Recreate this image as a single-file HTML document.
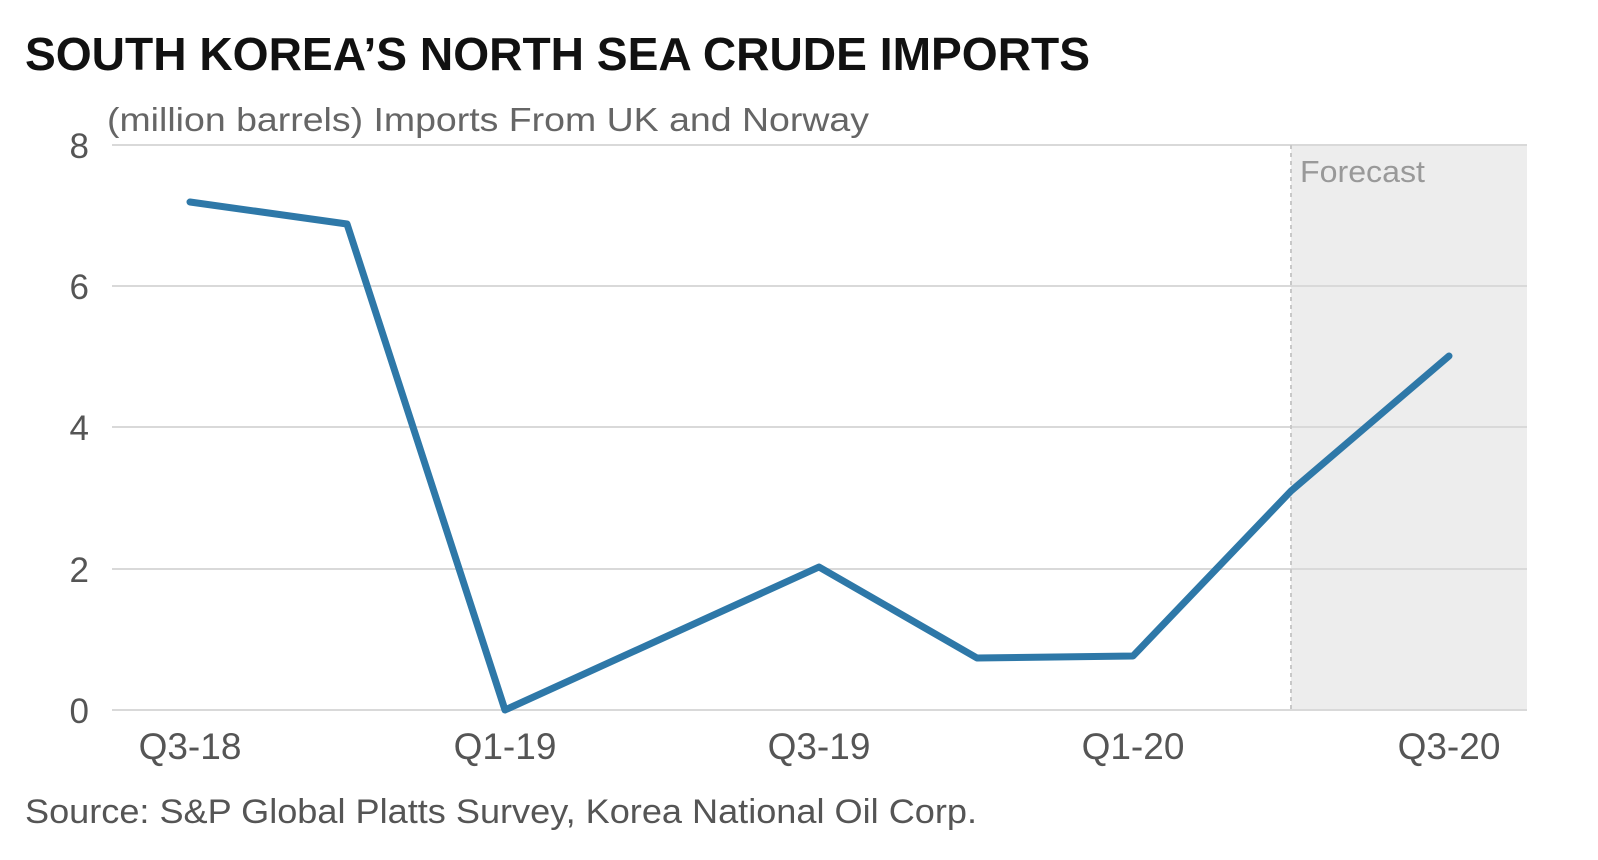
<!DOCTYPE html>
<html><head><meta charset="utf-8"><style>
html,body{margin:0;padding:0;background:#fff;}
svg{display:block;}
text{font-family:"Liberation Sans",sans-serif;}
</style></head><body>
<svg width="1598" height="860" viewBox="0 0 1598 860">
<text x="25" y="70" font-size="46" font-weight="bold" fill="#111" textLength="1065" lengthAdjust="spacingAndGlyphs">SOUTH KOREA’S NORTH SEA CRUDE IMPORTS</text>
<text x="107" y="131" font-size="33" fill="#666" textLength="762" lengthAdjust="spacingAndGlyphs">(million barrels) Imports From UK and Norway</text>
<rect x="1291" y="145" width="236" height="565" fill="#ededed"/>
<g stroke="#d9d9d9" stroke-width="2">
<line x1="112" y1="145" x2="1527" y2="145"/>
<line x1="112" y1="286" x2="1527" y2="286"/>
<line x1="112" y1="427" x2="1527" y2="427"/>
<line x1="112" y1="569" x2="1527" y2="569"/>
<line x1="112" y1="710" x2="1527" y2="710"/>
</g>
<line x1="1291" y1="145" x2="1291" y2="710" stroke="#c8c8c8" stroke-width="2" stroke-dasharray="4,4"/>
<text x="1300" y="182" font-size="31" fill="#999" textLength="125" lengthAdjust="spacingAndGlyphs">Forecast</text>
<g font-size="35" fill="#555" text-anchor="end">
<text x="89" y="158">8</text>
<text x="89" y="299">6</text>
<text x="89" y="440">4</text>
<text x="89" y="582">2</text>
<text x="89" y="723">0</text>
</g>
<g font-size="37" fill="#555" text-anchor="middle">
<text x="190" y="759">Q3-18</text>
<text x="505" y="759">Q1-19</text>
<text x="819" y="759">Q3-19</text>
<text x="1133" y="759">Q1-20</text>
<text x="1449" y="759">Q3-20</text>
</g>
<polyline fill="none" stroke="#2e78a8" stroke-width="7" stroke-linejoin="round" stroke-linecap="round"
points="190,202 347,224 505,710 819,567 977,658 1133,656 1291,491 1449,356"/>
<text x="25" y="823" font-size="34" fill="#555" textLength="952" lengthAdjust="spacingAndGlyphs">Source: S&amp;P Global Platts Survey, Korea National Oil Corp.</text>
</svg>
</body></html>
